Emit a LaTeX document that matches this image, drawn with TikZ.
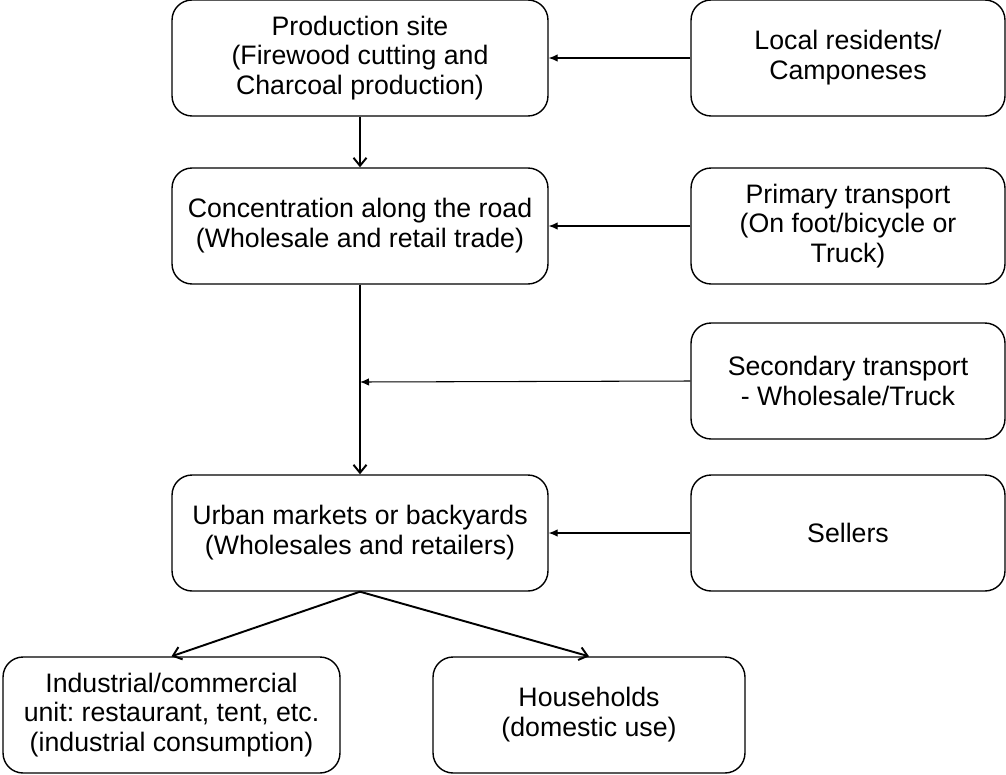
\documentclass[tikz,border=0pt]{standalone}
\usepackage{fontspec}
\setmainfont{Liberation Sans}
\usepackage{tikz}
\usetikzlibrary{arrows.meta}
\frenchspacing

\begin{document}
\begin{tikzpicture}[x=0.02cm, y=-0.02cm,
    every node/.style={draw, rounded corners=0.4cm, line width=0.8pt, align=center,
        minimum height=2.32cm, inner sep=2pt, font=\fontsize{15.2}{17}\selectfont},
    wide/.style={minimum width=7.52cm},
    side/.style={minimum width=6.28cm}]
            \useasboundingbox (0,0) rectangle (1006,774);

            \node[wide] (prod) at (360,58) {Production site\\(Firewood cutting and\\Charcoal production)};
            \node[wide] (conc) at (360,226) {Concentration along the road\\(Wholesale and retail trade)};
            \node[wide] (urban) at (360,533) {Urban markets or backyards\\(Wholesales and retailers)};

            \node[side] (local) at (848,58) {Local residents/\\Camponeses};
            \node[side] (prim) at (848,226) {Primary transport\\(On foot/bicycle or\\Truck)};
            \node[side] (sec) at (848,381) {Secondary transport\\- Wholesale/Truck};
            \node[side] (sell) at (848,533) {Sellers};

            \node[minimum width=6.74cm] (ind) at (171.5,715) {Industrial/commercial\\unit: restaurant, tent, etc.\\(industrial consumption)};
            \node[minimum width=6.24cm] (home) at (589,715) {Households\\(domestic use)};

            \coordinate (join) at (360,382);

            \draw[-{Straight Barb[length=1.6mm, width=2.6mm]}, line width=1.1pt] (prod) -- (conc);
            \draw[-{Straight Barb[length=1.6mm, width=2.6mm]}, line width=1.1pt] (conc) -- (urban);
            \draw[-{Straight Barb[length=1.6mm, width=2.6mm]}, line width=1.1pt] (urban.south) -- (ind.north);
            \draw[-{Straight Barb[length=1.6mm, width=2.6mm]}, line width=1.1pt] (urban.south) -- (home.north);

            \draw[-{Latex[length=1.8mm, width=1.5mm]}, line width=0.6pt] (local) -- (prod);
            \draw[-{Latex[length=1.8mm, width=1.5mm]}, line width=0.6pt] (prim) -- (conc);
            \draw[-{Latex[length=1.8mm, width=1.5mm]}, line width=0.6pt] (sec.west) -- (join);
            \draw[-{Latex[length=1.8mm, width=1.5mm]}, line width=0.6pt] (sell) -- (urban);
        \end{tikzpicture}
\end{document}
